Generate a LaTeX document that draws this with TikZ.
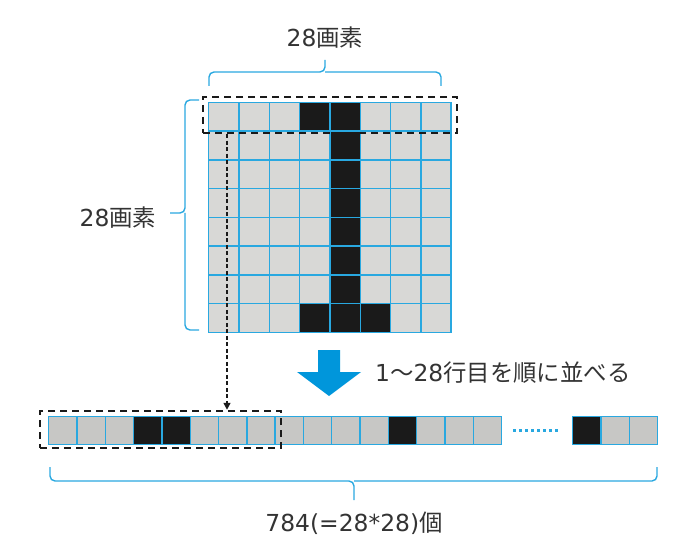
\documentclass[tikz,border=0pt]{standalone}
\usepackage{fontspec}
\setmainfont{DejaVu Sans}
\newfontfamily\jpfont{Noto Sans CJK JP}
\usetikzlibrary{arrows.meta}
\definecolor{gridblue}{HTML}{29A8E0}
\definecolor{arrowblue}{HTML}{0096DB}
\definecolor{cellgray}{HTML}{D8D8D6}
\definecolor{pixblack}{HTML}{1A1A1A}
\definecolor{textgray}{HTML}{333333}
\tikzset{
  pix/.style={draw=gridblue, line width=1.4bp, fill=cellgray, inner sep=0pt,
    minimum width=30.3bp, minimum height=28.75bp, anchor=north west},
  linepix/.style={pix, fill=cellgray!92!black, minimum width=28.3bp, minimum height=28.3bp},
  dashbox/.style={draw=pixblack, line width=2.5bp, dash pattern=on 7bp off 5bp, inner sep=0pt},
  bracket/.style={draw=gridblue, line width=1.4bp, rounded corners=5bp},
  label/.style={text=textgray, font=\fontsize{23.5}{28}\selectfont, inner sep=0pt}
}
\begin{document}
\begin{tikzpicture}[x=1bp, y=-1bp]
\useasboundingbox (0,0) rectangle (686,560);

% 28x28 image (shown as 8x8)
\foreach \r in {0,...,7}
  \foreach \c in {0,...,7}
    \node[pix] (g-\r-\c) at ({208+30.3*\c},{101.7+28.75*\r}) {};
\foreach \r/\c in {0/3,0/4,1/4,2/4,3/4,4/4,5/4,6/4,7/3,7/4,7/5}
  \node[pix, fill=pixblack] (b-\r-\c) at ({208+30.3*\c},{101.7+28.75*\r}) {};

% braces
\draw[bracket] (209,86) -- (209,72) -- (325,72) -- (325,60);
\draw[bracket] (441,86) -- (441,72) -- (325,72);
\node[label] (toplabel) at (325,38) {28\jpfont 画素};
\draw[bracket] (199,100) -- (185,100) -- (185,213) -- (170,213);
\draw[bracket] (199,330) -- (185,330) -- (185,213);
\node[label] (leftlabel) at (118,218) {28\jpfont 画素};

% first row
\node[dashbox, minimum width=254bp, minimum height=36bp] (rowbox) at (330,115) {};

% flattened line
\foreach \i in {0,...,15}
  \node[linepix] (l-\i) at ({48+28.3*\i},415.7) {};
\foreach \i in {3,4,12}
  \node[linepix, fill=pixblack] (lb-\i) at ({48+28.3*\i},415.7) {};
\foreach \i in {0,1,2}
  \node[linepix] (t-\i) at ({572+28.3*\i},415.7) {};
\node[linepix, fill=pixblack] (tb-0) at (572,415.7) {};
\draw[gridblue, line width=2.5bp, dash pattern=on 2.5bp off 3.5bp] ([xshift=11bp]l-15.east) -- ([xshift=-11bp]t-0.west);
\node[dashbox, minimum width=241bp, minimum height=37bp] (linebox) at (160.5,429.5) {};

% row to line
\coordinate (drop) at (227,0);
\draw[pixblack, line width=1.5bp, dash pattern=on 4bp off 2.5bp, -{Triangle[length=7bp, width=7bp]}]
  (rowbox.south -| drop) -- (linebox.north -| drop);

% big arrow
\fill[arrowblue] (318,350) -- (340,350) -- (340,372) -- (361,372) -- (329,396) -- (297,372) -- (318,372) -- cycle;
\node[label, anchor=west] (steplabel) at (375,373) {1{\jpfont 〜}28\jpfont 行目を順に並べる};

% bottom brace
\draw[bracket] (50,467) -- (50,481) -- (354,481) -- (354,500);
\draw[bracket] (657,467) -- (657,481) -- (354,481);
\node[label] (countlabel) at (354,523) {784(=28*28)\jpfont 個};
\end{tikzpicture}
\end{document}
